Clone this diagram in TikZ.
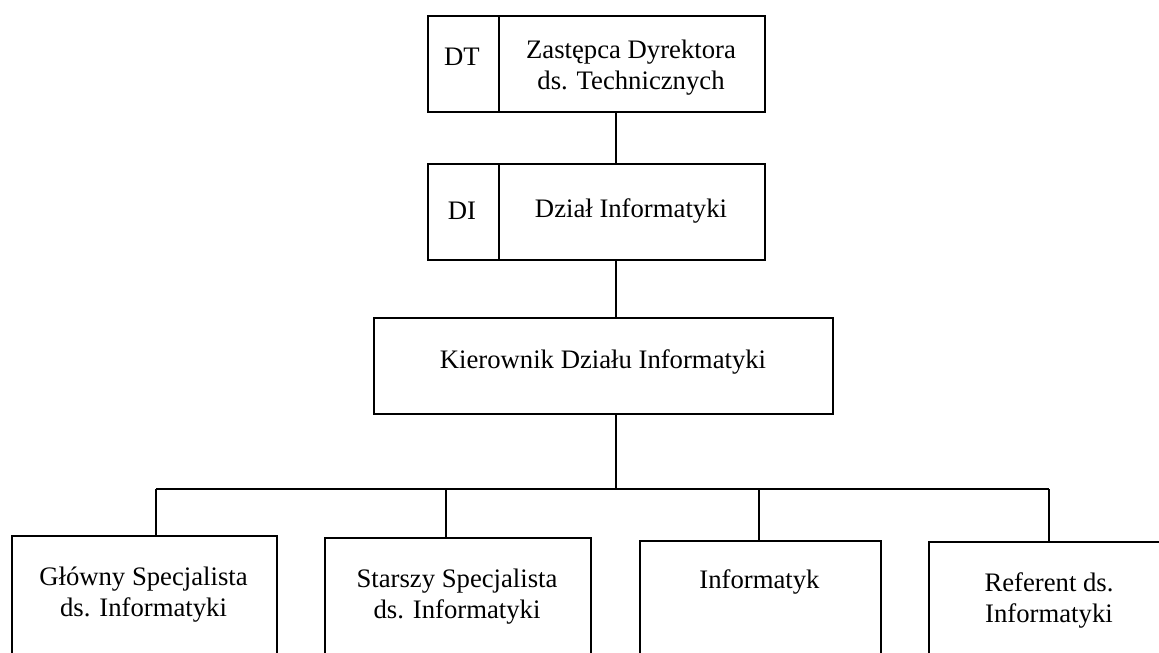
\documentclass[tikz,border=0pt]{standalone}
\usepackage{fontspec}
\setmainfont{Liberation Serif}
\begin{document}
\begin{tikzpicture}[x=1pt,y=-1pt,
  box/.style={draw=black, line width=1.8pt, rectangle, inner sep=0pt, anchor=north west},
  txt/.style={align=center, inner sep=0pt, font=\fontsize{26.7}{31}\selectfont},
  conn/.style={draw=black, line width=1.8pt}]
\useasboundingbox (0,0) rectangle (1159,653);
\clip (0,0) rectangle (1159,653);
% top boxes
\node[box, minimum width=337pt, minimum height=96pt] (dt) at (427,15) {};
\draw[conn] ([xshift=72pt]dt.north west) -- ([xshift=72pt]dt.south west);
\node[txt] (dtcode) at (462,57) {DT};
\node[txt] (dtname) at (631,67.5) {Zastępca Dyrektora\\ds. Technicznych};

\node[box, minimum width=337pt, minimum height=96pt] (di) at (427,163) {};
\draw[conn] ([xshift=72pt]di.north west) -- ([xshift=72pt]di.south west);
\node[txt] (dicode) at (462,211) {DI};
\node[txt] (diname) at (631,211) {Dział Informatyki};

\node[box, minimum width=459pt, minimum height=96pt] (kier) at (373,317) {};
\node[txt] (kiername) at (603,362) {Kierownik Działu Informatyki};

% bottom boxes
\node[box, minimum width=265pt, minimum height=140pt] (b1) at (11,535) {};
\node[txt] (t1) at (143.5,594.5) {Główny Specjalista\\ds. Informatyki};
\node[box, minimum width=266pt, minimum height=140pt] (b2) at (324,537) {};
\node[txt] (t2) at (457,596.5) {Starszy Specjalista\\ds. Informatyki};
\node[box, minimum width=241pt, minimum height=140pt] (b3) at (639,540) {};
\node[txt] (t3) at (759.5,582) {Informatyk};
\node[box, minimum width=242pt, minimum height=140pt] (b4) at (928,541) {};
\node[txt] (t4) at (1049,600.5) {Referent ds.\\Informatyki};

% connectors
\coordinate (spine) at (616,0);
\coordinate (d1) at (156,489);
\coordinate (d2) at (446,489);
\coordinate (d3) at (759,489);
\coordinate (d4) at (1049,489);
\draw[conn] (dt.south -| spine) -- (di.north -| spine);
\draw[conn] (di.south -| spine) -- (kier.north -| spine);
\draw[conn] (kier.south -| spine) -- (d1 -| spine);
\draw[conn] (d1) -- (d4);
\draw[conn] (d1) -- (d1 |- b1.north);
\draw[conn] (d2) -- (d2 |- b2.north);
\draw[conn] (d3) -- (d3 |- b3.north);
\draw[conn] (d4) -- (d4 |- b4.north);
\end{tikzpicture}
\end{document}
